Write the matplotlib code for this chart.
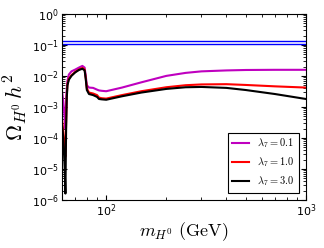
import matplotlib
matplotlib.use("Agg")
import matplotlib.pyplot as plt

# dark matter mass grid (GeV)
mass = [60, 61, 62, 62.5, 63, 63.5, 64, 65, 67, 70, 73, 76, 78, 79, 80, 82,
        86, 90, 92, 95, 100, 120, 150, 200, 250, 300, 400, 500, 700, 1000]

# relic density for each lambda_7
omega_01 = [3.5e-3, 1.5e-3, 4e-4, 2e-4, 1.5e-3, 4e-3, 7e-3, 1.1e-2, 1.4e-2, 1.6e-2,
            1.85e-2, 2.1e-2, 1.85e-2, 1.0e-2, 5e-3, 4.2e-3, 4.1e-3, 3.6e-3, 3.4e-3,
            3.3e-3, 3.2e-3, 4.2e-3, 6.2e-3, 1.0e-2, 1.25e-2, 1.4e-2, 1.5e-2, 1.55e-2,
            1.57e-2, 1.57e-2]
omega_10 = [4.5e-4, 1.5e-4, 3e-5, 2.5e-5, 3e-4, 2.5e-3, 5.5e-3, 8e-3, 1.05e-2, 1.35e-2,
            1.6e-2, 1.8e-2, 1.6e-2, 8.5e-3, 4e-3, 2.9e-3, 2.7e-3, 2.4e-3, 2.0e-3,
            1.9e-3, 1.85e-3, 2.4e-3, 3.2e-3, 4.3e-3, 5.0e-3, 5.3e-3, 5.4e-3, 5.1e-3,
            4.6e-3, 4.2e-3]
omega_30 = [3e-4, 1e-4, 1e-5, 1.6e-6, 2e-4, 2e-3, 5e-3, 7.5e-3, 1.0e-2, 1.3e-2,
            1.55e-2, 1.7e-2, 1.5e-2, 8e-3, 3.5e-3, 2.6e-3, 2.4e-3, 2.1e-3, 1.8e-3,
            1.75e-3, 1.7e-3, 2.2e-3, 2.9e-3, 3.8e-3, 4.3e-3, 4.4e-3, 4.1e-3, 3.5e-3,
            2.6e-3, 1.8e-3]

# observed band
planck = [0.108, 0.13]

plt.rcParams['mathtext.fontset'] = 'cm'

fig = plt.figure(figsize=(3.24, 2.48), dpi=100)
ax = fig.add_axes([0.191, 0.194, 0.753, 0.75])

ax.plot(mass, omega_01, color='m', lw=1.5, label=r'$\lambda_7=0.1$')
ax.plot(mass, omega_10, color='r', lw=1.5, label=r'$\lambda_7=1.0$')
ax.plot(mass, omega_30, color='k', lw=1.5, label=r'$\lambda_7=3.0$')
for p in planck:
    ax.axhline(p, color='b', lw=1)

ax.set_xscale('log')
ax.set_yscale('log')
ax.set_xlim(60, 1000)
ax.set_ylim(1e-6, 1)
ax.tick_params(which='both', direction='in', top=True, right=True, labelsize=8, pad=2)

ax.set_xlabel(r'$m_{H^0}\ \mathrm{(GeV)}$', fontsize=13, labelpad=1)
ax.set_ylabel(r'$\Omega_{H^0}\,h^2$', fontsize=16, labelpad=2)

leg = ax.legend(loc='lower right', fontsize=7.5, fancybox=False, framealpha=1,
                edgecolor='k', handlelength=1.6, borderaxespad=0.7)
leg.get_frame().set_linewidth(0.8)

fig.savefig('out.png', dpi=100)
